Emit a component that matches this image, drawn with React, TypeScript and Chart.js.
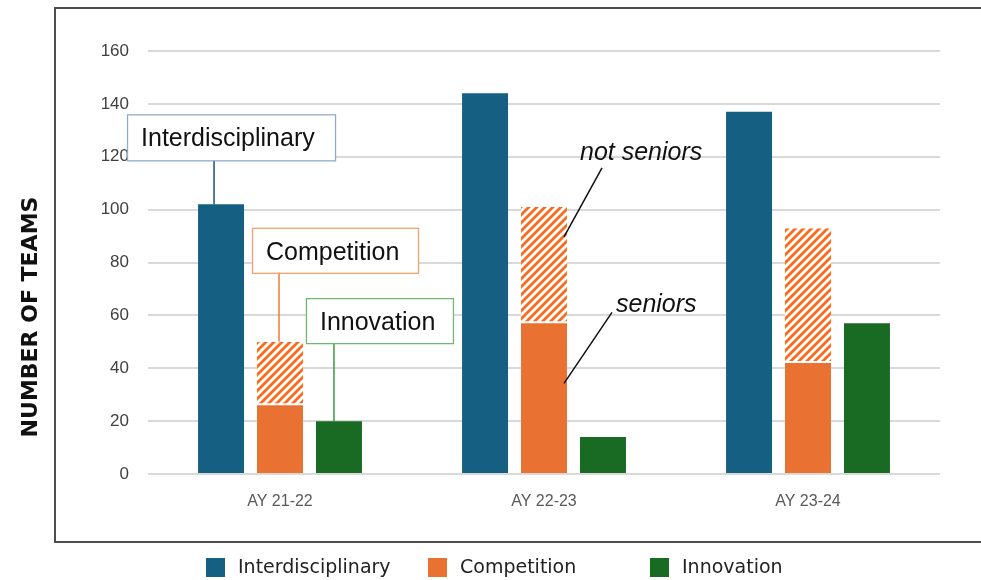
import React, { useEffect, useRef } from "react";
import { Chart, registerables } from "chart.js";

Chart.register(...registerables);

const categories = ["AY 21-22", "AY 22-23", "AY 23-24"];
const interdisciplinary = [102, 144, 137];
const competitionSeniors = [26, 57, 42];
const competitionNotSeniors = [24, 44, 51];
const innovation = [20, 14, 57];
const yMin = 0;
const yMax = 160;
const yStep = 20;
const legendLabels = ["Interdisciplinary", "Competition", "Innovation"];
const axisTitle = "NUMBER OF TEAMS";

const BLUE = "#156082";
const ORANGE = "#E97132";
const HATCH = "#FA6A1A";
const GREEN = "#196B24";

function makeHatch(): CanvasPattern | string {
  const s = 8;
  const c = document.createElement("canvas");
  c.width = s;
  c.height = s;
  const g = c.getContext("2d");
  if (!g) return HATCH;
  g.fillStyle = "#ffffff";
  g.fillRect(0, 0, s, s);
  g.strokeStyle = HATCH;
  g.lineWidth = 2.8;
  g.lineCap = "square";
  for (const o of [-s, 0, s]) {
    g.beginPath();
    g.moveTo(o, s);
    g.lineTo(o + s, 0);
    g.stroke();
  }
  const p = g.createPattern(c, "repeat");
  return p || HATCH;
}

const overlayPlugin = {
  id: "overlay",
  afterDraw(chart: any) {
    const ctx: CanvasRenderingContext2D = chart.ctx;
    ctx.save();

    // frame
    ctx.strokeStyle = "#4d4d4d";
    ctx.lineWidth = 2;
    ctx.beginPath();
    ctx.moveTo(990, 8);
    ctx.lineTo(55, 8);
    ctx.lineTo(55, 542);
    ctx.lineTo(990, 542);
    ctx.stroke();

    // axis title
    ctx.save();
    ctx.translate(31, 317);
    ctx.rotate(-Math.PI / 2);
    ctx.fillStyle = "#111";
    ctx.font = "bold 22px 'DejaVu Sans'";
    ctx.textAlign = "center";
    ctx.textBaseline = "middle";
    ctx.fillText(axisTitle, 0, 0);
    ctx.restore();

    // legend
    const legendColors = [BLUE, ORANGE, GREEN];
    ctx.font = "19px 'DejaVu Sans'";
    ctx.textAlign = "left";
    ctx.textBaseline = "alphabetic";
    legendLabels.forEach((lab, i) => {
      const bx = 206 + i * 222;
      ctx.fillStyle = legendColors[i];
      ctx.fillRect(bx, 558, 19, 19);
      ctx.fillStyle = "#222";
      ctx.fillText(lab, bx + 32, 573);
    });

    const m0 = chart.getDatasetMeta(0).data;
    const m1 = chart.getDatasetMeta(1).data;
    const m2 = chart.getDatasetMeta(2).data;
    const m3 = chart.getDatasetMeta(3).data;

    const callout = (
      text: string,
      bx: number,
      by: number,
      w: number,
      h: number,
      border: string,
      lx: number,
      ly1: number,
      ly2: number,
      lineColor: string
    ) => {
      ctx.strokeStyle = lineColor;
      ctx.lineWidth = 1.5;
      ctx.beginPath();
      ctx.moveTo(lx, ly1);
      ctx.lineTo(lx, ly2);
      ctx.stroke();
      ctx.fillStyle = "#fff";
      ctx.fillRect(bx, by, w, h);
      ctx.strokeStyle = border;
      ctx.lineWidth = 1.3;
      ctx.strokeRect(bx + 0.5, by + 0.5, w, h);
      ctx.fillStyle = "#111";
      ctx.font = "25px 'Liberation Sans', Arial";
      ctx.textAlign = "left";
      ctx.textBaseline = "alphabetic";
      ctx.fillText(text, bx + 14, by + 32);
    };

    if (m0[0]) {
      const { x, y } = m0[0];
      callout("Interdisciplinary", x - 94, y - 90, 208, 46, "#8FACCB", x - 7, y - 44, y, "#1F4E79");
    }
    if (m2[0]) {
      const { x, y } = m2[0];
      callout("Competition", x - 28, y - 114, 166, 45, "#F6A26B", x - 1, y - 69, y, "#F47A30");
    }
    if (m3[0]) {
      const { x, y } = m3[0];
      callout("Innovation", x - 33, y - 123, 147, 45, "#70B870", x - 5, y - 78, y, "#3E9A3E");
    }

    ctx.font = "italic 25px 'Liberation Sans', Arial";
    ctx.fillStyle = "#111";
    ctx.strokeStyle = "#111";
    ctx.lineWidth = 1.5;
    ctx.textAlign = "left";
    ctx.textBaseline = "alphabetic";
    if (m2[1]) {
      const { x, y } = m2[1];
      ctx.fillText("not seniors", x + 36, y - 47);
      ctx.beginPath();
      ctx.moveTo(x + 58, y - 39);
      ctx.lineTo(x + 20, y + 30);
      ctx.stroke();
    }
    if (m1[1]) {
      const { x, y } = m1[1];
      ctx.fillText("seniors", x + 72, y - 11);
      ctx.beginPath();
      ctx.moveTo(x + 68, y - 11);
      ctx.lineTo(x + 20, y + 60);
      ctx.stroke();
    }

    ctx.restore();
  },
};

export default function App() {
  const ref = useRef<HTMLCanvasElement | null>(null);

  useEffect(() => {
    const canvas = ref.current;
    if (!canvas) return;
    const hatch = makeHatch();
    const common = {
      categoryPercentage: 0.67,
      barPercentage: 0.78,
    };
    const chart = new Chart(canvas, {
      type: "bar",
      data: {
        labels: categories,
        datasets: [
          {
            label: "Interdisciplinary",
            data: interdisciplinary,
            backgroundColor: BLUE,
            stack: "i",
            ...common,
          },
          {
            label: "Competition (seniors)",
            data: competitionSeniors,
            backgroundColor: ORANGE,
            stack: "c",
            ...common,
          },
          {
            label: "Competition (not seniors)",
            data: competitionNotSeniors,
            backgroundColor: hatch as any,
            borderColor: "#ffffff",
            borderWidth: { top: 0, left: 0, right: 0, bottom: 2 },
            borderSkipped: false,
            stack: "c",
            ...common,
          },
          {
            label: "Innovation",
            data: innovation,
            backgroundColor: GREEN,
            stack: "n",
            ...common,
          },
        ],
      },
      options: {
        responsive: false,
        animation: false,
        devicePixelRatio: 1,
        layout: { padding: { left: 55, right: 41, top: 51, bottom: 38 } },
        plugins: {
          legend: { display: false },
          tooltip: { enabled: false },
          title: { display: false },
        },
        scales: {
          x: {
            stacked: true,
            grid: { display: false, drawTicks: false },
            border: { display: false },
            ticks: {
              color: "#595959",
              font: { family: "'Liberation Sans', Arial", size: 16 },
              padding: 18,
            },
            afterFit: (s: any) => {
              s.height = 68;
            },
          },
          y: {
            stacked: true,
            min: yMin,
            max: yMax,
            grid: { color: "#d9d9d9", lineWidth: 2, drawTicks: false },
            border: { display: false },
            ticks: {
              stepSize: yStep,
              color: "#404040",
              font: { family: "'Liberation Sans', Arial", size: 17 },
              padding: 19,
            },
            afterFit: (s: any) => {
              s.width = 93;
            },
          },
        },
      },
      plugins: [overlayPlugin],
    } as any);
    return () => chart.destroy();
  }, []);

  return (
    <canvas
      ref={ref}
      width={981}
      height={580}
      style={{ position: "fixed", left: 0, top: 0, display: "block", background: "#fff" }}
    />
  );
}
